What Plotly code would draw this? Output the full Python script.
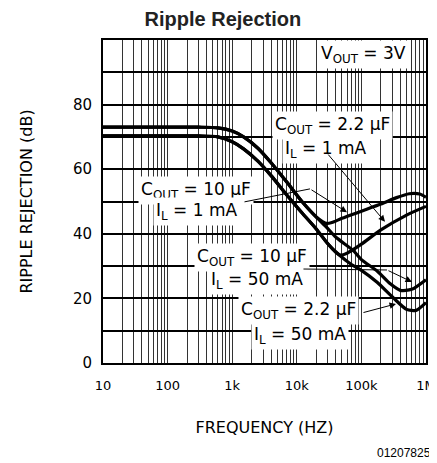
"""Ripple rejection vs frequency, four load/capacitor conditions."""

import plotly.graph_objects as go

# curve data: frequency (Hz) and ripple rejection (dB)
FREQ_10U_1MA = [10, 300, 600, 1000, 1500, 2500, 4000, 7000, 12000, 20000,
                25000, 29000, 35000, 50000, 100000, 200000, 350000, 550000,
                800000, 1000000]
DB_10U_1MA = [73, 73, 72.8, 71.8, 70, 66.5, 62, 56, 50, 45.2,
              43.8, 43.2, 43.5, 44.8, 47, 49.2, 51.2, 52.4,
              52.3, 51.3]

FREQ_10U_50MA = [10, 300, 600, 1000, 1500, 2500, 4000, 7000, 12000, 20000,
                 29000, 40000, 75000, 100000, 175000, 280000, 400000, 600000,
                 1000000]
DB_10U_50MA = [73, 73, 72.8, 71.8, 70, 66.5, 62, 56, 50, 45.2,
               42, 39, 34.8, 32, 28.5, 24.5, 22.5, 22.8,
               25.8]

FREQ_22U_1MA = [10, 300, 600, 1000, 1500, 2500, 4000, 7000, 12000, 20000,
                30000, 40000, 47000, 60000, 100000, 200000, 500000, 1000000]
DB_22U_1MA = [70.3, 70.3, 70, 68.5, 66.3, 62.5, 58, 52, 46.5, 41.5,
              37, 34.3, 33.4, 34, 36.8, 41.2, 45.8, 48.5]

FREQ_22U_50MA = [10, 300, 600, 1000, 1500, 2500, 4000, 7000, 12000, 20000,
                 30000, 45000, 70000, 100000, 175000, 300000, 500000, 700000,
                 1000000]
DB_22U_50MA = [70.3, 70.3, 70, 68.5, 66.3, 62.5, 58, 52, 46.5, 41.5,
               37, 33.5, 30.5, 28.7, 25, 20.5, 16.6, 16.3,
               18.7]

DECADES = [10, 100, 1000, 10000, 100000, 1000000]
DECADE_TEXT = ["10", "100", "1k", "10k", "100k", "1M"]
Y_LABELS = [0, 20, 40, 60, 80]

FONT = "DejaVu Sans"

fig = go.Figure()
for f, db in [(FREQ_10U_1MA, DB_10U_1MA), (FREQ_10U_50MA, DB_10U_50MA),
              (FREQ_22U_1MA, DB_22U_1MA), (FREQ_22U_50MA, DB_22U_50MA)]:
    fig.add_trace(go.Scatter(
        x=f, y=db, mode="lines",
        line=dict(color="black", width=3.2, shape="spline", smoothing=0.7),
        hoverinfo="skip", showlegend=False,
    ))

# gridlines at every 1..9 of each decade, labels only on decades
grid_x = [m * 10 ** e for e in range(1, 6) for m in range(1, 10)] + [1e6]
grid_text = [DECADE_TEXT[DECADES.index(v)] if v in DECADES else "" for v in grid_x]
grid_y = list(range(0, 101, 10))
grid_y_text = [str(v) if v in Y_LABELS else "" for v in grid_y]

# text labels (log10 x, dB y) with white boxes that break the grid
labels = [
    ("V<sub>OUT</sub> = 3V", 5.025, 95.5),
    ("C<sub>OUT</sub> = 2.2 \u00b5F", 4.56, 73.5),
    ("I<sub>L</sub> = 1 mA", 4.44, 66.0),
    ("C<sub>OUT</sub> = 10 \u00b5F", 2.44, 53.4),
    ("I<sub>L</sub> = 1 mA", 2.455, 46.8),
    ("C<sub>OUT</sub> = 10 \u00b5F", 3.31, 32.6),
    ("I<sub>L</sub> = 50 mA", 3.38, 25.5),
    ("C<sub>OUT</sub> = 2.2 \u00b5F", 4.03, 16.2),
    ("I<sub>L</sub> = 50 mA", 4.05, 8.5),
]
annotations = []
for text, x, y in labels:
    annotations.append(dict(
        text=text, x=x, y=y, xref="x", yref="y", showarrow=False,
        font=dict(family=FONT, size=17, color="black"),
        bgcolor="white", borderpad=2,
    ))

# leader lines: tail (log10 f, dB) -> head, head style
leaders = [
    (4.467, 65.0, 5.365, 43.7, 2),
    (3.167, 49.8, 4.204, 53.9, 0),
    (4.204, 53.9, 4.777, 46.7, 2),
    (4.08, 29.1, 5.396, 28.8, 0),
    (5.396, 28.8, 5.783, 25.1, 2),
    (5.009, 15.5, 5.536, 18.3, 2),
]
for ax, ay, x, y, head in leaders:
    annotations.append(dict(
        text="", x=x, y=y, ax=ax, ay=ay, xref="x", yref="y",
        axref="x", ayref="y", showarrow=True, arrowhead=head,
        arrowsize=1.3, arrowwidth=1, arrowcolor="black",
        standoff=0, startstandoff=0,
    ))

annotations.append(dict(
    text="01207825", x=1.022, y=-0.279, xref="paper", yref="paper",
    xanchor="right", yanchor="middle", showarrow=False,
    font=dict(family="Liberation Sans", size=12, color="black"),
))

# page body adds an 8px offset, so the figure is 8px smaller on each axis
fig.update_layout(
    width=429, height=455,
    margin=dict(l=95, r=11, t=32, b=100),
    paper_bgcolor="white", plot_bgcolor="white",
    title=dict(text="<b>Ripple Rejection</b>", x=0.501, xanchor="center",
               y=0.992, yanchor="top",
               font=dict(family="Liberation Sans", size=20, color="#222")),
    annotations=annotations,
    showlegend=False,
)
fig.update_xaxes(
    type="log", range=[1, 6], automargin=False,
    tickmode="array", tickvals=grid_x, ticktext=grid_text,
    showgrid=True, gridcolor="#333", gridwidth=1,
    showline=True, linecolor="black", linewidth=2, mirror=True,
    ticks="", ticklabelstandoff=9,
    tickfont=dict(family=FONT, size=13, color="black"),
    title=dict(text="FREQUENCY (HZ)", standoff=30,
               font=dict(family=FONT, size=16, color="black")),
    zeroline=False,
)
fig.update_yaxes(
    range=[0, 100], automargin=False,
    tickmode="array", tickvals=grid_y, ticktext=grid_y_text,
    showgrid=True, gridcolor="black", gridwidth=1.5,
    showline=True, linecolor="black", linewidth=2, mirror=True,
    ticks="", ticklabelstandoff=6,
    tickfont=dict(family=FONT, size=15, color="black"),
    title=dict(text="RIPPLE REJECTION (dB)", standoff=36,
               font=dict(family=FONT, size=16, color="black")),
    zeroline=False,
)

fig.write_html("out.html")
